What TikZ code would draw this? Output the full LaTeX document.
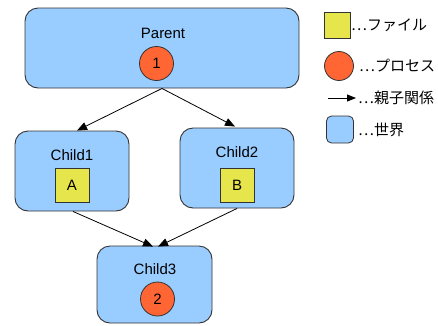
\documentclass[tikz,border=0pt]{standalone}
\usepackage{fontspec}
\setmainfont{Liberation Sans}
\newfontfamily\jpfont{Noto Sans CJK JP}
\usetikzlibrary{arrows.meta}
\definecolor{worldblue}{HTML}{99CCFF}
\definecolor{procorange}{HTML}{FF6633}
\definecolor{fileyellow}{HTML}{E6E64C}
\definecolor{edgegray}{HTML}{333333}
\tikzset{
  world/.style={draw=edgegray, line width=0.9pt, fill=worldblue, rounded corners=13pt, minimum width=#1},
  proc/.style={draw=edgegray, line width=0.8pt, fill=procorange, circle, minimum size=34pt, inner sep=0pt, font=\fontsize{15}{17}\selectfont},
  filebox/.style={draw=edgegray, line width=0.8pt, fill=fileyellow, minimum size=34pt, inner sep=0pt, font=\fontsize{15}{17}\selectfont},
  lbl/.style={font=\fontsize{15}{17}\selectfont, inner sep=0pt},
  jp/.style={font=\jpfont\fontsize{15}{17}\selectfont, anchor=west, inner sep=0pt},
  link/.style={line width=0.8pt, -{Triangle[length=10pt,width=8pt]}}
}
\begin{document}
\begin{tikzpicture}[x=1pt,y=-1pt]
\useasboundingbox (0,0) rectangle (438,325);
% worlds
\node[world=274pt, minimum height=80pt] (parent) at (162,48) {};
\node[world=114pt, minimum height=80pt] (child1) at (72,171) {};
\node[world=114pt, minimum height=80pt] (child2) at (237,168) {};
\node[world=115pt, minimum height=77pt] (child3) at (154.5,284.5) {};
% labels
\node[lbl] (tparent) at (163,33) {Parent};
\node[lbl] (tchild1) at (72,155) {Child1};
\node[lbl] (tchild2) at (237,152) {Child2};
\node[lbl] (tchild3) at (155,269) {Child3};
% processes and files
\node[proc] (p1) at (156.5,63.5) {1};
\node[proc] (p2) at (157.5,299) {2};
\node[filebox] (fa) at (72,185.5) {A};
\node[filebox] (fb) at (237,185.5) {B};
% links
\draw[link] (parent.south) -- ([xshift=5pt]child1.north);
\draw[link] (parent.south) -- ([xshift=-2pt,yshift=1pt]child2.north);
\draw[link] ([xshift=1pt]child1.south) -- ([xshift=-1.5pt,yshift=-1pt]child3.north);
\draw[link] (child2.south) -- ([xshift=3.5pt,yshift=-1pt]child3.north);
% legend
\node[draw=edgegray, line width=0.8pt, fill=fileyellow, minimum size=26pt, inner sep=0pt] (lfile) at (337.5,25) {};
\node[jp] (tfile) at (351,25) {⋯ファイル};
\node[draw=edgegray, line width=0.8pt, fill=procorange, circle, minimum size=29pt, inner sep=0pt] (lproc) at (339,66) {};
\node[jp] (tproc) at (359,66) {⋯プロセス};
\coordinate (la) at (328,98);
\coordinate (lb) at (356,98);
\draw[line width=0.8pt, -{Triangle[length=9pt,width=7pt]}] (la) -- (lb);
\node[jp] (trel) at (358,98) {⋯親子関係};
\node[draw=edgegray, line width=0.8pt, fill=worldblue, rounded corners=5pt, minimum size=27pt, inner sep=0pt] (lworld) at (340,129.5) {};
\node[jp] (tworld) at (358,130) {⋯世界};
\end{tikzpicture}
\end{document}
